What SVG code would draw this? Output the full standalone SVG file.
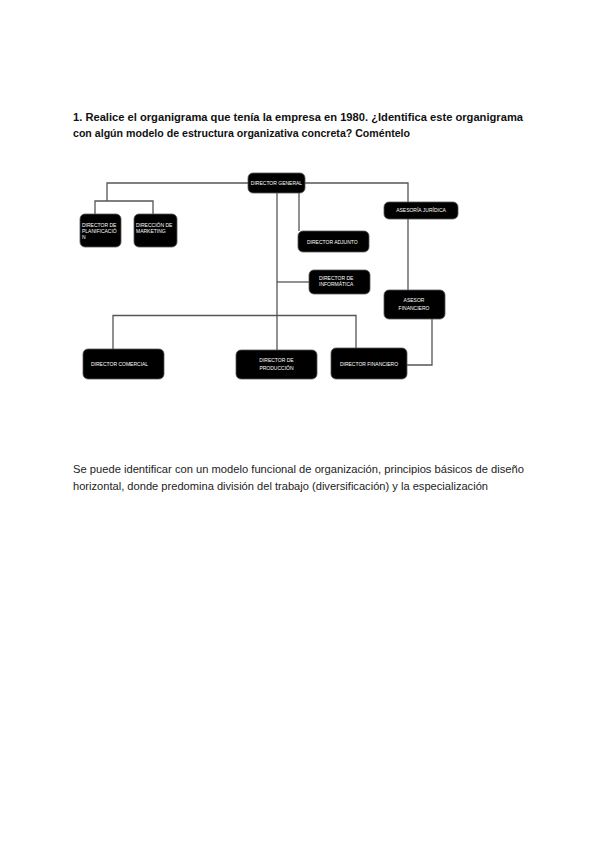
<svg xmlns="http://www.w3.org/2000/svg" width="600" height="848" viewBox="0 0 600 848">
<style>
.bg{fill:#ffffff}
.h{font-family:"Liberation Sans",Arial,sans-serif;font-weight:bold;font-size:10.5px;fill:#111}
.p{font-family:"Liberation Sans",Arial,sans-serif;font-size:10.5px;fill:#222}
.box{fill:#000;stroke:#555;stroke-width:0.8}
.t{font-family:"Liberation Sans",Arial,sans-serif;font-size:5px;fill:#fff}
.tc{font-family:"Liberation Sans",Arial,sans-serif;font-size:5px;fill:#fff;text-anchor:middle}
.ln{fill:none;stroke:#555;stroke-width:1.3}
</style>
<rect class="bg" width="600" height="848"/>
<text class="h" x="73" y="121" textLength="450" lengthAdjust="spacingAndGlyphs">1. Realice el organigrama que tenía la empresa en 1980. ¿Identifica este organigrama</text>
<text class="h" x="73" y="137" textLength="337" lengthAdjust="spacingAndGlyphs">con algún modelo de estructura organizativa concreta? Coméntelo</text>
<g id="connectors">
<polyline class="ln" points="248,183 107,183 107,201"/>
<polyline class="ln" points="95,215 95,201 153,201 153,215"/>
<polyline class="ln" points="305,183 408,183 408,202"/>
<line class="ln" x1="408" y1="219" x2="408" y2="290"/>
<line class="ln" x1="299" y1="193" x2="299" y2="231"/>
<line class="ln" x1="277" y1="193" x2="277" y2="350"/>
<line class="ln" x1="277" y1="282" x2="309" y2="282"/>
<polyline class="ln" points="113,349 113,315.5 356,315.5 356,348"/>
<polyline class="ln" points="432,319 432,365 407,365"/>
</g>
<g id="director-general"><rect class="box" x="248" y="173" width="57" height="20" rx="5"/><text class="tc" x="276.5" y="184.5">DIRECTOR GENERAL</text></g>
<g id="director-planificacion"><rect class="box" x="80" y="214" width="41" height="33" rx="5"/><text class="t" x="82" y="227">DIRECTOR DE</text><text class="t" x="82" y="233">PLANIFICACIÓ</text><text class="t" x="82" y="239">N</text></g>
<g id="direccion-marketing"><rect class="box" x="134" y="214" width="43" height="33" rx="5"/><text class="t" x="136" y="227">DIRECCIÓN DE</text><text class="t" x="136" y="233">MARKETING</text></g>
<g id="director-adjunto"><rect class="box" x="298" y="231" width="71" height="21" rx="5"/><text class="t" x="307" y="243.5">DIRECTOR ADJUNTO</text></g>
<g id="asesoria-juridica"><rect class="box" x="384" y="202" width="74" height="17" rx="5"/><text class="tc" x="421" y="211.5">ASESORÍA JURÍDICA</text></g>
<g id="director-informatica"><rect class="box" x="309" y="270" width="61" height="24" rx="5"/><text class="t" x="319" y="280">DIRECTOR DE</text><text class="t" x="319" y="286">INFORMÁTICA</text></g>
<g id="asesor-financiero"><rect class="box" x="384" y="290" width="61" height="29" rx="5"/><text class="tc" x="414" y="302">ASESOR</text><text class="tc" x="414" y="310">FINANCIERO</text></g>
<g id="director-comercial"><rect class="box" x="83" y="349" width="81" height="30" rx="5"/><text class="t" x="91" y="365.5">DIRECTOR COMERCIAL</text></g>
<g id="director-produccion"><rect class="box" x="236" y="350" width="81" height="29" rx="5"/><text class="tc" x="276.5" y="362">DIRECTOR DE</text><text class="tc" x="276.5" y="369.5">PRODUCCIÓN</text></g>
<g id="director-financiero"><rect class="box" x="331" y="348" width="76" height="31" rx="5"/><text class="tc" x="369" y="365.5">DIRECTOR FINANCIERO</text></g>
<text class="p" x="73" y="473" textLength="451" lengthAdjust="spacingAndGlyphs">Se puede identificar con un modelo funcional de organización, principios básicos de diseño</text>
<text class="p" x="73" y="490" textLength="415" lengthAdjust="spacingAndGlyphs">horizontal, donde predomina  división del trabajo (diversificación) y la especialización</text>
</svg>
